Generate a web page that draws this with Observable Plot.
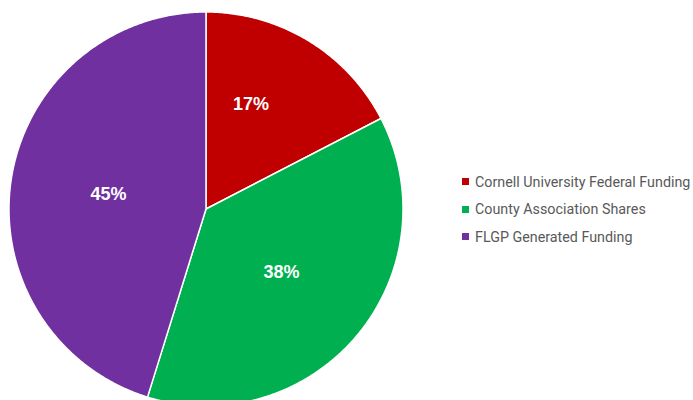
<!DOCTYPE html>
<html>
<head>
<meta charset="utf-8">
<script src="https://cdn.jsdelivr.net/npm/d3@7"></script>
<script src="https://cdn.jsdelivr.net/npm/@observablehq/plot@0.6"></script>
<style>
  body { margin: 0; background: #fff; font-family: "Liberation Sans", Arial, sans-serif; }
  #wrap { position: relative; width: 693px; height: 400px; overflow: hidden; }
  #legend { position: absolute; left: 462px; top: 168px; font-family: Roboto, "Liberation Sans", sans-serif; font-size: 14.3px; color: #595959; }
  #legend .row { display: flex; align-items: center; height: 27.5px; white-space: nowrap; }
  #legend .sw { width: 7px; height: 7px; margin-right: 6px; }
</style>
</head>
<body>
<div id="wrap"><div id="chart"></div><div id="legend"></div></div>
<script>
const categories = ["Cornell University Federal Funding", "County Association Shares", "FLGP Generated Funding"];
const shares = [17.4, 37.4, 45.2];
const labels = ["17%", "38%", "45%"];
const colors = ["#C00000", "#00B050", "#7030A0"];

const total = d3.sum(shares);
let cum = 0;
const slices = categories.map((c, i) => {
  const a0 = cum / total * 2 * Math.PI;
  cum += shares[i];
  const a1 = cum / total * 2 * Math.PI;
  return {cat: c, a0, a1, label: labels[i], frac: shares[i] / total};
});

// wedge outlines (geometry derived from the values)
const pts = [];
for (const s of slices) {
  pts.push({cat: s.cat, x: 0, y: 0});
  const n = Math.max(2, Math.ceil((s.a1 - s.a0) / (Math.PI / 360)));
  for (let k = 0; k <= n; k++) {
    const a = s.a0 + (s.a1 - s.a0) * k / n;
    pts.push({cat: s.cat, x: Math.sin(a), y: Math.cos(a)});
  }
}

const labelPts = slices.map(s => {
  const narrow = s.frac < 0.2;
  const a = narrow ? s.a0 + (s.a1 - s.a0) * 0.37 : (s.a0 + s.a1) / 2;
  const r = narrow ? 0.58 : 0.5;
  return {text: s.label, x: r * Math.sin(a), y: r * Math.cos(a)};
});

const chart = Plot.plot({
  width: 693,
  height: 400,
  margin: 0,
  style: {fontFamily: "'Liberation Sans', Arial, sans-serif", background: "white"},
  x: {domain: [-1, 1], range: [8.5, 402.5], axis: null},
  y: {domain: [-1, 1], range: [405.5, 11.5], axis: null},
  color: {domain: categories, range: colors},
  marks: [
    Plot.line(pts, {x: "x", y: "y", z: "cat", fill: "cat", stroke: "white", strokeWidth: 1.5, curve: "linear-closed", strokeLinejoin: "round"}),
    Plot.text(labelPts, {x: "x", y: "y", text: "text", fill: "white", fontSize: 18, fontWeight: "bold"})
  ]
});
document.getElementById("chart").appendChild(chart);

const legend = document.getElementById("legend");
categories.forEach((c, i) => {
  const row = document.createElement("div");
  row.className = "row";
  const sw = document.createElement("span");
  sw.className = "sw";
  sw.style.background = colors[i];
  const t = document.createElement("span");
  t.textContent = c;
  row.appendChild(sw);
  row.appendChild(t);
  legend.appendChild(row);
});
</script>
</body>
</html>
